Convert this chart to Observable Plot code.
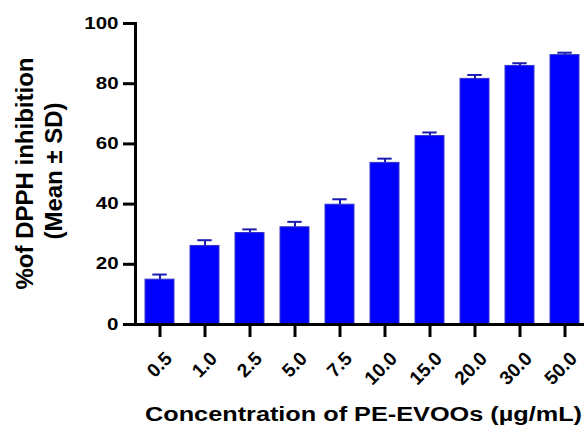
<!DOCTYPE html>
<html>
<head>
<meta charset="utf-8">
<script src="https://cdn.jsdelivr.net/npm/d3@7"></script>
<script src="https://cdn.jsdelivr.net/npm/@observablehq/plot@0.6"></script>
<style>
  html, body { margin: 0; padding: 0; background: #fff; }
  #chart svg { display: block; }
</style>
</head>
<body>
<div id="chart"></div>
<script>
// ---- data ----
const concentrations = ["0.5", "1.0", "2.5", "5.0", "7.5", "10.0", "15.0", "20.0", "30.0", "50.0"];
const means = [14.9, 26.1, 30.4, 32.3, 39.8, 53.7, 62.6, 81.6, 85.9, 89.5];
const sds = [1.7, 1.9, 1.2, 1.8, 1.8, 1.4, 1.2, 1.3, 0.9, 0.8];
const yTicks = [0, 20, 40, 60, 80, 100];
const xLabel = "Concentration of PE-EVOOs (µg/mL)";
const yLabelLines = ["%of DPPH inhibition", "(Mean ± SD)"];

const data = concentrations.map((c, i) => ({c, m: means[i], sd: sds[i]}));

const font = "'Liberation Sans', Arial, Helvetica, sans-serif";

const chart = Plot.plot({
  width: 585,
  height: 427,
  marginLeft: 135,
  marginRight: 3,
  marginTop: 23,
  marginBottom: 103,
  style: {fontFamily: font, background: "#fff", color: "#000"},
  x: {domain: concentrations, range: [143.1, 580.9], paddingInner: 0.347, paddingOuter: 0, label: null},
  y: {domain: [0, 100], label: null},
  marks: [
    Plot.barY(data, {x: "c", y: "m", fill: "#0000ff", stroke: "#3535cc", strokeWidth: 1}),
    Plot.ruleX(data, {x: "c", y1: "m", y2: d => d.m + d.sd, stroke: "#1c1cb0", strokeWidth: 2}),
    Plot.tickY(data, {x: "c", y: d => d.m + d.sd, stroke: "#1c1cb0", strokeWidth: 2, insetLeft: 7.3, insetRight: 7.3}),
    Plot.frame({anchor: "left", stroke: "#000", strokeWidth: 3}),
    Plot.frame({anchor: "bottom", stroke: "#000", strokeWidth: 3}),
    // x-axis tick marks (below the axis line)
    Plot.ruleX(concentrations, {x: d => d, y1: 0, y2: 0, insetBottom: -13, stroke: "#000", strokeWidth: 3}),
    Plot.axisY({ticks: yTicks, tickSize: 12, tickPadding: 5, strokeWidth: 3, fontSize: 16, fontWeight: "bold", label: null}),
    Plot.axisX({tickSize: 0, tickPadding: 6, tickRotate: -45, fontSize: 19, fontWeight: "bold", dx: 9, dy: 25, label: null})
  ]
});

document.getElementById("chart").appendChild(chart);

const svg = d3.select(chart);

// stretch y tick labels horizontally like the reference
svg.selectAll('g[aria-label="y-axis tick label"] text').each(function() {
  const w = this.getComputedTextLength();
  d3.select(this).attr("textLength", w * 1.28).attr("lengthAdjust", "spacingAndGlyphs");
});

// x-axis title
svg.append("text")
  .attr("x", 363.5)
  .attr("y", 420.5)
  .attr("text-anchor", "middle")
  .attr("font-family", font)
  .attr("font-weight", "bold")
  .attr("font-size", 19.5)
  .attr("textLength", 437)
  .attr("lengthAdjust", "spacingAndGlyphs")
  .text(xLabel);

// y-axis title (two lines)
const yl = svg.append("g").attr("font-family", font).attr("font-weight", "bold").attr("font-size", 24).attr("text-anchor", "middle");
yl.append("text").attr("transform", "translate(33,173.5) rotate(-90)").text(yLabelLines[0]);
yl.append("text").attr("transform", "translate(62,171) rotate(-90)").text(yLabelLines[1]);
</script>
</body>
</html>
